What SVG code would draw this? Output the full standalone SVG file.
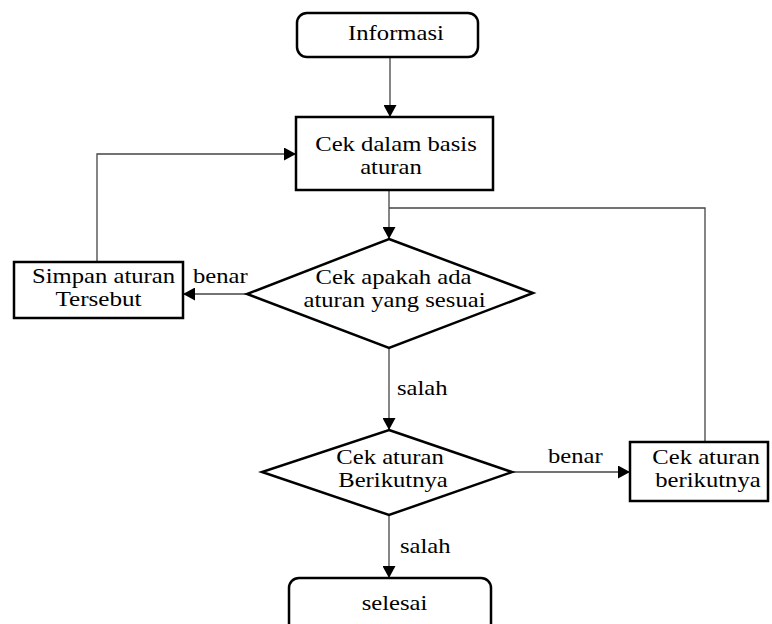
<svg xmlns="http://www.w3.org/2000/svg" width="772" height="624" viewBox="0 0 772 624">
<style>
.box{fill:#fff;stroke:#000;stroke-width:2.5}
.ln{fill:none;stroke:#444;stroke-width:1.3}
.c{text-anchor:middle}
</style>
<defs>
<marker id="ah" markerUnits="userSpaceOnUse" markerWidth="13" markerHeight="13" refX="12" refY="6.5" orient="auto">
<path d="M0,0 L12,6.5 L0,13 z" fill="#000"/>
</marker>
</defs>
<rect width="772" height="624" fill="#fff"/>
<g id="connectors">
<line class="ln" x1="390" y1="57" x2="390" y2="117" marker-end="url(#ah)"/>
<line class="ln" x1="389" y1="190" x2="389" y2="239" marker-end="url(#ah)"/>
<line class="ln" x1="247" y1="294" x2="183" y2="294" marker-end="url(#ah)"/>
<path class="ln" d="M97 262 V154 H296" marker-end="url(#ah)"/>
<line class="ln" x1="389" y1="348" x2="389" y2="430" marker-end="url(#ah)"/>
<line class="ln" x1="512" y1="472" x2="630" y2="472" marker-end="url(#ah)"/>
<path class="ln" d="M705 442 V208 H389"/>
<line class="ln" x1="389" y1="515" x2="389" y2="578" marker-end="url(#ah)"/>
<text font-family="Liberation Serif, serif" font-size="21" x="193" y="283" textLength="54.7" lengthAdjust="spacingAndGlyphs">benar</text>
<text font-family="Liberation Serif, serif" font-size="21" x="397" y="395" textLength="50.6" lengthAdjust="spacingAndGlyphs">salah</text>
<text font-family="Liberation Serif, serif" font-size="21" x="548" y="463" textLength="54.7" lengthAdjust="spacingAndGlyphs">benar</text>
<text font-family="Liberation Serif, serif" font-size="21" x="400" y="553" textLength="50.6" lengthAdjust="spacingAndGlyphs">salah</text>
</g>
<g id="informasi">
<rect class="box" x="297" y="13" width="181" height="44" rx="10"/>
<text class="c" font-family="Liberation Serif, serif" font-size="21" x="396" y="40" textLength="95.8" lengthAdjust="spacingAndGlyphs">Informasi</text>
</g>
<g id="cek-basis">
<rect class="box" x="296" y="117" width="197" height="73"/>
<text class="c" font-family="Liberation Serif, serif" font-size="21" x="396" y="151" textLength="161.5" lengthAdjust="spacingAndGlyphs">Cek dalam basis</text>
<text class="c" font-family="Liberation Serif, serif" font-size="21" x="391" y="174" textLength="61.6" lengthAdjust="spacingAndGlyphs">aturan</text>
</g>
<g id="simpan">
<rect class="box" x="14" y="262" width="169" height="56"/>
<text class="c" font-family="Liberation Serif, serif" font-size="21" x="103.5" y="283" textLength="143.1" lengthAdjust="spacingAndGlyphs">Simpan aturan</text>
<text class="c" font-family="Liberation Serif, serif" font-size="21" x="98.5" y="306" textLength="86.2" lengthAdjust="spacingAndGlyphs">Tersebut</text>
</g>
<g id="cek-apakah">
<polygon class="box" points="389,239 533,293 389,348 247,294"/>
<text class="c" font-family="Liberation Serif, serif" font-size="21" x="393.5" y="284" textLength="156" lengthAdjust="spacingAndGlyphs">Cek apakah ada</text>
<text class="c" font-family="Liberation Serif, serif" font-size="21" x="394.5" y="307" textLength="182" lengthAdjust="spacingAndGlyphs">aturan yang sesuai</text>
</g>
<g id="cek-aturan-berikutnya-dec">
<polygon class="box" points="389,430 512,472 389,515 262,472"/>
<text class="c" font-family="Liberation Serif, serif" font-size="21" x="390" y="464" textLength="107.4" lengthAdjust="spacingAndGlyphs">Cek aturan</text>
<text class="c" font-family="Liberation Serif, serif" font-size="21" x="393" y="487" textLength="109.5" lengthAdjust="spacingAndGlyphs">Berikutnya</text>
</g>
<g id="cek-aturan-berikutnya-box">
<rect class="box" x="630" y="442" width="138" height="59"/>
<text class="c" font-family="Liberation Serif, serif" font-size="21" x="706" y="464" textLength="107.4" lengthAdjust="spacingAndGlyphs">Cek aturan</text>
<text class="c" font-family="Liberation Serif, serif" font-size="21" x="708" y="487" textLength="105.4" lengthAdjust="spacingAndGlyphs">berikutnya</text>
</g>
<g id="selesai">
<rect class="box" x="289" y="578" width="202" height="60" rx="10"/>
<text class="c" font-family="Liberation Serif, serif" font-size="21" x="394.5" y="610" textLength="65.7" lengthAdjust="spacingAndGlyphs">selesai</text>
</g>
</svg>
